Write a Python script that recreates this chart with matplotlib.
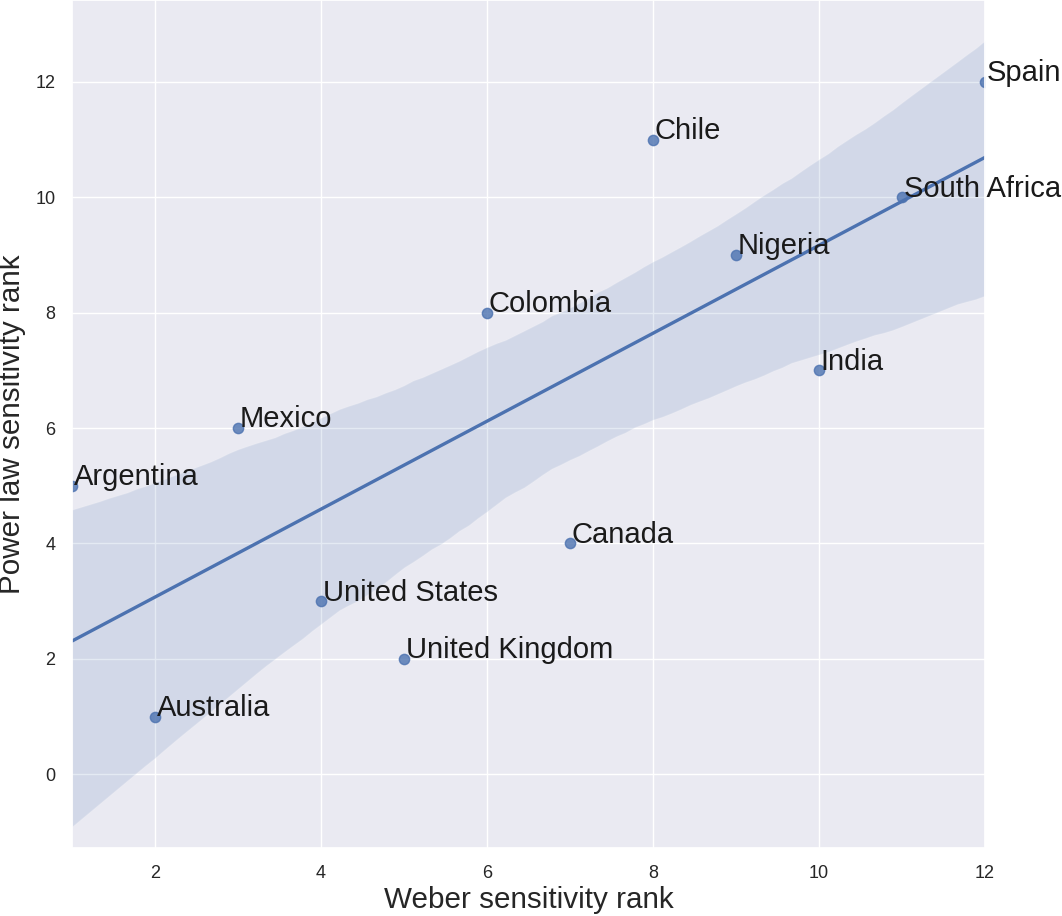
import matplotlib
matplotlib.use("Agg")
import matplotlib.pyplot as plt
import seaborn as sns
import pandas as pd

countries = ['Argentina', 'Australia', 'Mexico', 'United States', 'United Kingdom',
             'Colombia', 'Canada', 'Chile', 'Nigeria', 'India', 'South Africa', 'Spain']
weber_rank = [1, 2, 3, 4, 5, 6, 7, 8, 9, 10, 11, 12]
power_rank = [5, 1, 6, 3, 2, 8, 4, 11, 9, 7, 10, 12]

sns.set_theme(style='darkgrid')
plt.rcParams['font.family'] = ['Liberation Sans', 'DejaVu Sans']

df = pd.DataFrame({'weber': weber_rank, 'power': power_rank, 'country': countries})

fig = plt.figure(figsize=(10.62, 9.16), dpi=100)
ax = fig.add_axes([0.0678, 0.0742, 0.8597, 0.9258])

sns.regplot(data=df, x='weber', y='power', ax=ax, seed=0,
            scatter_kws={'s': 55}, line_kws={'lw': 2.4})

for name, x, y in zip(countries, weber_rank, power_rank):
    ax.text(x + 0.02, y + 0.01, name, fontsize=21, color='#1a1a1a', clip_on=False)

ax.set_xlim(1, 12)
ax.set_ylim(-1.28, 13.42)
ax.set_xticks([2, 4, 6, 8, 10, 12])
ax.set_yticks([0, 2, 4, 6, 8, 10, 12])
ax.tick_params(labelsize=13, pad=6)
ax.set_xlabel('Weber sensitivity rank', fontsize=21.3)
ax.set_ylabel('Power law sensitivity rank', fontsize=21.3)
ax.xaxis.set_label_coords(0.5, -0.045)
ax.yaxis.set_label_coords(-0.05, 0.5)

fig.savefig('out.png', dpi=100)
